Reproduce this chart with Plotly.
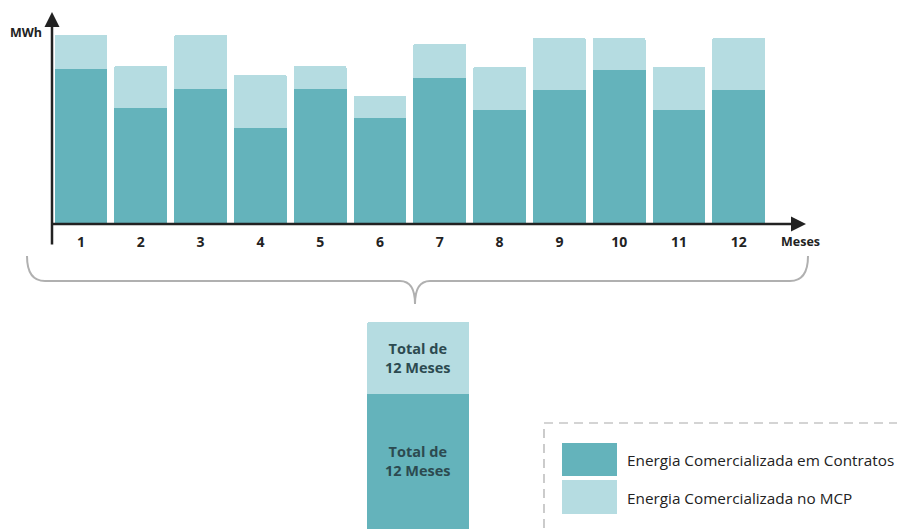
import plotly.graph_objects as go

W, H = 897, 529

months = ["1", "2", "3", "4", "5", "6", "7", "8", "9", "10", "11", "12"]
contratos = [155, 116, 135, 96, 135, 106, 146, 114, 134, 154, 114, 134]
mcp = [34, 42, 54, 53, 23, 22, 34, 43, 52, 32, 43, 52]
legend_labels = ["Energia Comercializada em Contratos", "Energia Comercializada no MCP"]
total_label = "Total de<br>12 Meses"
y_label = "MWh"
x_label = "Meses"

C_DARK = "#64B3BB"
C_LIGHT = "#B5DCE1"
TXT = "#222222"
TOT_TXT = "#2C4A50"
FONT = "Open Sans"

def px(x):
    return x / W

def py(y):
    return 1 - y / H

xs = list(range(1, 13))
tot_c = sum(contratos)
tot_m = sum(mcp)

fig = go.Figure()
fig.add_trace(go.Bar(x=xs, y=contratos, marker=dict(color=C_DARK, line=dict(width=0)),
                     width=0.885, name=legend_labels[0], showlegend=False, hoverinfo="skip"))
fig.add_trace(go.Bar(x=xs, y=mcp, marker=dict(color=C_LIGHT, line=dict(width=0)),
                     width=0.885, name=legend_labels[1], showlegend=False, hoverinfo="skip"))
fig.add_trace(go.Bar(x=[0], y=[tot_c], marker=dict(color=C_DARK, line=dict(width=0)),
                     width=1, xaxis="x2", yaxis="y2", showlegend=False, hoverinfo="skip"))
fig.add_trace(go.Bar(x=[0], y=[tot_m], marker=dict(color=C_LIGHT, line=dict(width=0)),
                     width=1, xaxis="x2", yaxis="y2", showlegend=False, hoverinfo="skip"))

# main axes geometry
x0p, x1p = 52, 805
base_y, top_y = 224, 12
pitch = 59.8
a = 1 - (81 - x0p) / pitch
b = a + (x1p - x0p) / pitch

# bottom bar geometry: MCP top at 322, split at 394
scale = (394 - 322) / tot_m
dom_top = 1 - 322 / H
span = (H - 322) / scale
ytop = tot_c + tot_m

fig.update_layout(
    width=W, height=H,
    margin=dict(l=0, r=0, t=0, b=0),
    paper_bgcolor="white", plot_bgcolor="rgba(0,0,0,0)",
    barmode="stack", barcornerradius=2,
    font=dict(family=FONT, color=TXT),
    xaxis=dict(domain=[px(x0p), px(x1p)], range=[a, b], showgrid=False, zeroline=False,
               showline=False, tickvals=xs, ticktext=["<b>%s</b>" % m for m in months],
               ticks="outside", ticklen=5, tickcolor="rgba(0,0,0,0)",
               tickfont=dict(size=14, color=TXT, family=FONT), fixedrange=True),
    yaxis=dict(domain=[py(base_y), py(top_y)], range=[0, base_y - top_y], showgrid=False,
               zeroline=False, showline=False, showticklabels=False, fixedrange=True),
    xaxis2=dict(domain=[px(367), px(469)], range=[-0.5, 0.5], anchor="y2", visible=False),
    yaxis2=dict(domain=[0, dom_top], range=[ytop - span, ytop], anchor="x2", visible=False),
)

shapes = []
# brace
d = ("M {},{} Q {},{} {},{} L {},{} Q {},{} {},{} Q {},{} {},{} L {},{} Q {},{} {},{}").format(
    px(27), py(256), px(27), py(281), px(45), py(281), px(400), py(281),
    px(415), py(281), px(415), py(304), px(415), py(281), px(430), py(281),
    px(790), py(281), px(808), py(281), px(808), py(256))
shapes.append(dict(type="path", xref="paper", yref="paper", path=d,
                   line=dict(color="#B0B0B0", width=2)))
# legend box
shapes.append(dict(type="rect", xref="paper", yref="paper", x0=px(544), y0=py(540), x1=px(910), y1=py(423),
                   line=dict(color="#AAAAAA", width=1.2, dash="9px,6px"), fillcolor="rgba(0,0,0,0)"))
shapes.append(dict(type="rect", xref="paper", yref="paper", x0=px(562), y0=py(476), x1=px(617), y1=py(443),
                   line=dict(width=0), fillcolor=C_DARK))
shapes.append(dict(type="rect", xref="paper", yref="paper", x0=px(562), y0=py(514), x1=px(617), y1=py(480),
                   line=dict(width=0), fillcolor=C_LIGHT))
fig.update_layout(shapes=shapes)

ann = []
# axis arrows
ann.append(dict(xref="paper", yref="paper", x=px(52), y=py(12), ax=0, ay=234, axref="pixel", ayref="pixel",
                showarrow=True, arrowhead=2, arrowsize=1.2, arrowwidth=2.5, arrowcolor=TXT, text=""))
ann.append(dict(xref="paper", yref="paper", x=px(806), y=py(224), ax=-756, ay=0, axref="pixel", ayref="pixel",
                showarrow=True, arrowhead=2, arrowsize=1.2, arrowwidth=2.5, arrowcolor=TXT, text=""))
ann.append(dict(xref="paper", yref="paper", x=px(26), y=py(32), text="<b>%s</b>" % y_label, showarrow=False,
                font=dict(size=12.5, color=TXT, family=FONT), xanchor="center", yanchor="middle"))
ann.append(dict(xref="paper", yref="paper", x=px(800), y=py(241), text="<b>%s</b>" % x_label, showarrow=False,
                font=dict(size=12.5, color=TXT, family=FONT), xanchor="center", yanchor="middle"))
# total labels
ann.append(dict(xref="x2", yref="y2", x=0, y=tot_c + tot_m / 2, text="<b>%s</b>" % total_label, showarrow=False,
                font=dict(size=14.5, color=TOT_TXT, family=FONT), align="center", yanchor="middle"))
ann.append(dict(xref="x2", yref="paper", x=0, y=py(461), text="<b>%s</b>" % total_label, showarrow=False,
                font=dict(size=14.5, color=TOT_TXT, family=FONT), align="center", yanchor="middle"))
# legend texts
ann.append(dict(xref="paper", yref="paper", x=px(625), y=py(460), text=legend_labels[0], showarrow=False,
                xanchor="left", yanchor="middle", font=dict(size=15.3, color="#222", family=FONT)))
ann.append(dict(xref="paper", yref="paper", x=px(625), y=py(498), text=legend_labels[1], showarrow=False,
                xanchor="left", yanchor="middle", font=dict(size=15.3, color="#222", family=FONT)))
fig.update_layout(annotations=ann)

fig.write_html("out.html")
